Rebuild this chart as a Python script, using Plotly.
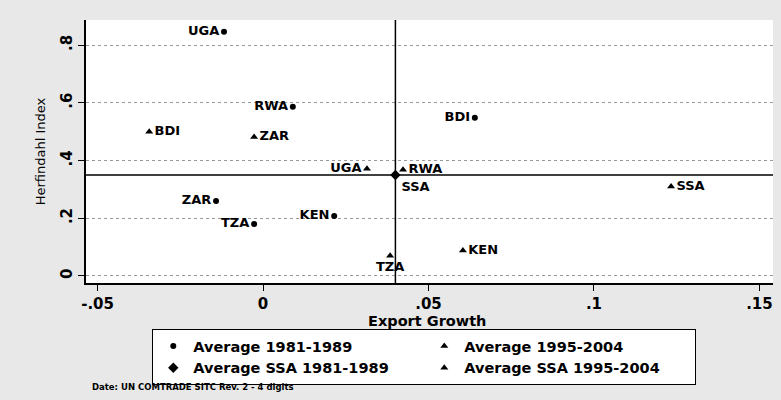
import plotly.graph_objects as go

# Average 1981-1989 (circles)
c81_labels = ["UGA", "RWA", "BDI", "ZAR", "TZA", "KEN"]
c81_x = [-0.0118, 0.009, 0.064, -0.0142, -0.0027, 0.0215]
c81_y = [0.846, 0.586, 0.548, 0.260, 0.180, 0.208]
c81_pos = ["middle left"] * 6

# Average 1995-2004 (triangles)
c95_labels = ["BDI", "ZAR", "UGA", "RWA", "TZA", "KEN"]
c95_x = [-0.0344, -0.0027, 0.0314, 0.0423, 0.0384, 0.0604]
c95_y = [0.500, 0.482, 0.372, 0.368, 0.070, 0.088]
c95_pos = ["middle right", "middle right", "middle left", "middle right", "bottom center", "middle right"]

# SSA averages
ssa81_x, ssa81_y = [0.040], [0.350]
ssa95_x, ssa95_y = [0.1233], [0.310]

x_ticks = [-0.05, 0, 0.05, 0.1, 0.15]
x_ticklabels = ["-.05", "0", ".05", ".1", ".15"]
y_ticks = [0, 0.2, 0.4, 0.6, 0.8]
y_ticklabels = ["0", ".2", ".4", ".6", ".8"]

FONT = "DejaVu Sans, sans-serif"
lbl_font = dict(family=FONT, size=13, color="black", weight="bold")

fig = go.Figure()
fig.add_trace(go.Scatter(
    x=c81_x, y=c81_y, text=c81_labels, textposition=c81_pos,
    mode="markers+text", name="Average 1981-1989",
    marker=dict(symbol="circle", size=6, color="black"),
    textfont=lbl_font))
fig.add_trace(go.Scatter(
    x=c95_x, y=c95_y, text=c95_labels, textposition=c95_pos,
    mode="markers+text", name="Average 1995-2004",
    marker=dict(symbol="triangle-up", size=7, color="black"),
    textfont=lbl_font))
fig.add_trace(go.Scatter(
    x=ssa81_x, y=ssa81_y, text=["SSA"], textposition="bottom right",
    mode="markers+text", name="Average SSA 1981-1989",
    marker=dict(symbol="diamond", size=8, color="black"),
    textfont=lbl_font))
fig.add_trace(go.Scatter(
    x=ssa95_x, y=ssa95_y, text=["SSA"], textposition="middle right",
    mode="markers+text", name="Average SSA 1995-2004",
    marker=dict(symbol="triangle-up", size=7, color="black"),
    textfont=lbl_font))

# reference lines through SSA 1981-1989 average
fig.add_shape(type="line", xref="x", yref="paper", x0=ssa81_x[0], x1=ssa81_x[0], y0=0, y1=1,
              line=dict(color="black", width=1.5))
fig.add_shape(type="line", xref="paper", yref="y", x0=0, x1=1, y0=ssa81_y[0], y1=ssa81_y[0],
              line=dict(color="black", width=1.5))

fig.update_layout(
    width=781, height=400,
    margin=dict(l=86, r=8, t=20, b=117, autoexpand=False),
    paper_bgcolor="#e8e8e8", plot_bgcolor="white",
    font=dict(family=FONT, color="black"),
    showlegend=True,
    legend=dict(
        orientation="h", xref="container", yref="container",
        x=0.195, y=0.1775, xanchor="left", yanchor="top",
        entrywidth=226, entrywidthmode="pixels",
        bgcolor="white", bordercolor="black", borderwidth=1,
        font=dict(family=FONT, size=14.5, color="black", weight="bold"),
        tracegroupgap=0, itemwidth=30,
    ),
    annotations=[
        dict(text="<b>Export Growth</b>", xref="paper", yref="paper",
             x=0.496, y=-0.1445, xanchor="center", yanchor="middle", showarrow=False,
             borderpad=0, font=dict(family=FONT, size=14.5, color="black")),
        dict(text="<b>Date: UN COMTRADE SITC Rev. 2 - 4 digits</b>",
             xref="paper", yref="paper", x=0.006, y=-0.395, xanchor="left", yanchor="middle",
             showarrow=False, font=dict(family=FONT, size=8.5, color="black")),
    ],
)
fig.update_xaxes(
    range=[-0.0535, 0.1541], tickvals=x_ticks, ticktext=x_ticklabels,
    showgrid=False, zeroline=False, showline=True, linecolor="black", linewidth=1.5,
    ticks="outside", ticklen=6, tickcolor="black",
    tickfont=dict(family=FONT, size=15, color="black", weight="bold"),
)
fig.update_yaxes(
    range=[-0.0243, 0.887], tickvals=y_ticks, ticktext=y_ticklabels, tickangle=-90,
    showgrid=True, gridcolor="#999999", griddash="dot", gridwidth=1,
    zeroline=False, showline=True, linecolor="black", linewidth=1.5,
    ticks="outside", ticklen=6, tickcolor="black",
    tickfont=dict(family=FONT, size=15, color="black", weight="bold"),
    title=dict(text="Herfindahl Index", font=dict(family=FONT, size=13, color="black"), standoff=10),
)

fig.write_html("out.html", config={"displayModeBar": False},
               post_script="document.body.style.margin='0';")
